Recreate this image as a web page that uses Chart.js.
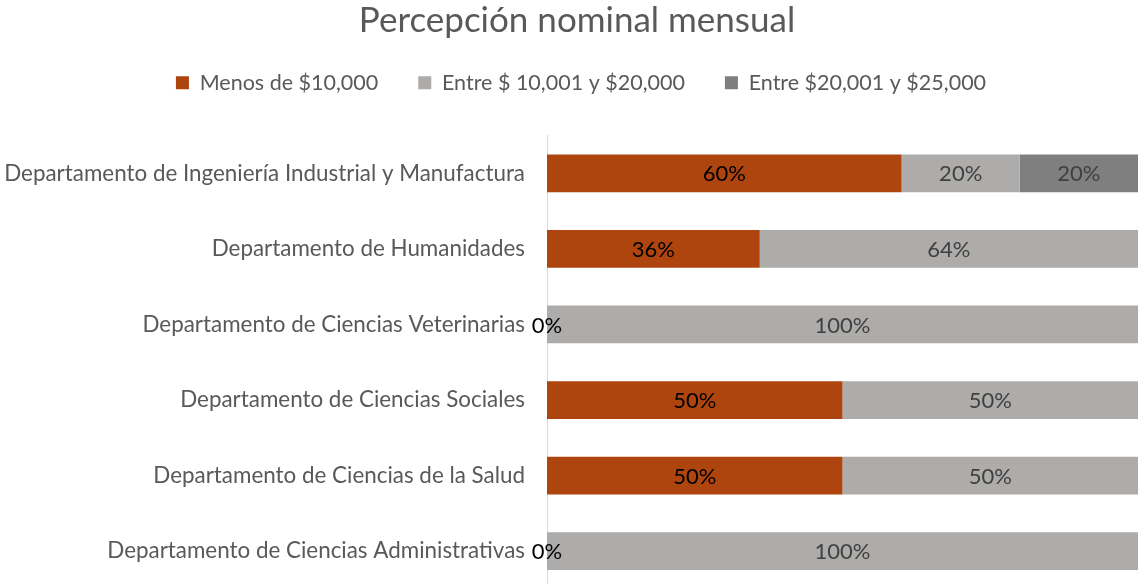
<!DOCTYPE html>
<html><head><meta charset="utf-8">
<script src="https://cdn.jsdelivr.net/npm/chart.js@4.4.1/dist/chart.umd.min.js"></script>
<style>html,body{margin:0;padding:0;overflow:hidden;background:#fff}#wrap{width:1138px;height:590px;position:relative}</style>
</head><body><div id="wrap"><canvas id="c"></canvas></div>
<script>
const categories = [
  "Departamento de Ingeniería Industrial y Manufactura",
  "Departamento de Humanidades",
  "Departamento de Ciencias Veterinarias",
  "Departamento de Ciencias Sociales",
  "Departamento de Ciencias de la Salud",
  "Departamento de Ciencias Administrativas"
];
const seriesNames = ["Menos de $10,000", "Entre $ 10,001 y $20,000", "Entre $20,001 y $25,000"];
const menos10k = [60, 36, 0, 50, 50, 0];
const entre10y20k = [20, 64, 100, 50, 50, 100];
const entre20y25k = [20, null, null, null, null, null];
const FONT = "Lato, 'Open Sans', sans-serif";

const labelPlugin = {
  id: 'barLabels',
  afterLayout(chart) {
    // nudge title and legend horizontally (reference centres them over the plot side)
    if (chart.titleBlock) { chart.titleBlock.left += 8; chart.titleBlock.right += 8; }
    if (chart.legend) { chart.legend.left += 12; chart.legend.right += 12; }
  },
  afterDatasetsDraw(chart) {
    const ctx = chart.ctx;
    ctx.save();
    ctx.font = "22px " + FONT;
    ctx.textAlign = 'center';
    ctx.textBaseline = 'middle';
    chart.data.datasets.forEach((ds, i) => {
      const meta = chart.getDatasetMeta(i);
      meta.data.forEach((el, j) => {
        const v = ds.data[j];
        if (v === null || v === undefined) return;
        const p = el.getProps(['x', 'base', 'y'], true);
        ctx.fillStyle = ds.labelColor;
        ctx.fillText(v + '%', (p.x + p.base) / 2, p.y + 1);
      });
    });
    ctx.restore();
  }
};

new Chart(document.getElementById('c'), {
  type: 'bar',
  data: {
    labels: categories,
    datasets: [
      { label: seriesNames[0], data: menos10k, backgroundColor: '#AE450E', labelColor: '#000000' },
      { label: seriesNames[1], data: entre10y20k, backgroundColor: '#ADACAA', labelColor: '#404040' },
      { label: seriesNames[2], data: entre20y25k, backgroundColor: '#7F7F7F', labelColor: '#404040' }
    ]
  },
  options: {
    indexAxis: 'y',
    responsive: true,
    maintainAspectRatio: false,
    animation: false,
    layout: { padding: { left: 0, right: 0, top: 0, bottom: 1 } },
    datasets: { bar: { barPercentage: 0.5, categoryPercentage: 1.0 } },
    scales: {
      x: { stacked: true, min: 0, max: 100, position: 'top',
        grid: { display: false, drawTicks: false }, border: { display: false },
        ticks: { display: false },
        afterFit(s) { s.height = 32; } },
      y: {
        stacked: true,
        grid: { display: false, drawTicks: false },
        border: { display: true, color: '#D9D9D9', width: 1 },
        ticks: { color: '#595959', font: { family: FONT, size: 22.4 }, padding: 22 },
        afterFit(s) { s.width = 547; s.paddingTop = 0; s.paddingBottom = 0; }
      }
    },
    plugins: {
      title: { display: true, text: 'Percepción nominal mensual', color: '#595959',
        font: { family: FONT, size: 35, weight: 'normal' }, padding: { top: 0, bottom: -10 } },
      legend: { position: 'top', labels: { color: '#595959', font: { family: FONT, size: 21.5 },
        boxWidth: 13, boxHeight: 13, padding: 40 } },
      tooltip: { enabled: false }
    }
  },
  plugins: [labelPlugin]
});
</script></body></html>
